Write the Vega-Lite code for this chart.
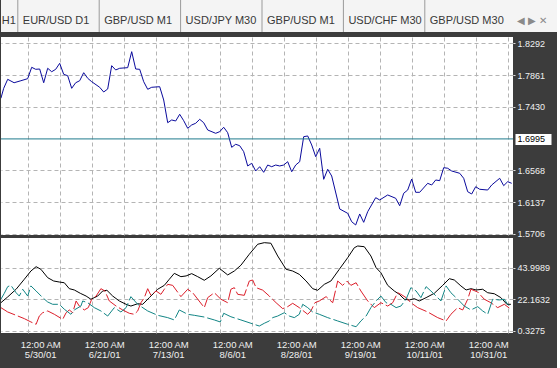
{
  "$schema": "https://vega.github.io/schema/vega-lite/v6.json",
  "background": "#3c3c3c",
  "padding": 0,
  "spacing": 5,
  "bounds": "flush",
  "config": {
    "view": {"stroke": null},
    "font": "Liberation Sans",
    "axis": {
      "labelFont": "Liberation Sans",
      "labelColor": "#f0f0f0",
      "gridColor": "#b4b4b4",
      "gridDash": [4, 3],
      "gridWidth": 1,
      "domain": false,
      "tickColor": "#e0e0e0",
      "tickSize": 2,
      "labelFontSize": 9
    }
  },
  "datasets": {
    "tabs": [
      {"order": 0, "label": "H1"},
      {"order": 1, "label": "EUR/USD D1"},
      {"order": 2, "label": "GBP/USD M1"},
      {"order": 3, "label": "USD/JPY M30"},
      {"order": 4, "label": "GBP/USD M1"},
      {"order": 5, "label": "USD/CHF M30"},
      {"order": 6, "label": "GBP/USD M30"},
      {"order": 7, "label": "◀ ▶  ✕"}
    ],
    "level": [{"price": 1.6995}],
    "price": [
      {"bar": -6.7, "close": 1.7546}, {"bar": -6, "close": 1.7681}, {"bar": -5, "close": 1.7803}, {"bar": -3.4, "close": 1.7757},
      {"bar": -1.7, "close": 1.7784}, {"bar": 0, "close": 1.7812}, {"bar": 1, "close": 1.7966}, {"bar": 2, "close": 1.7939},
      {"bar": 3, "close": 1.7943}, {"bar": 4, "close": 1.7757}, {"bar": 5, "close": 1.7953}, {"bar": 6, "close": 1.7906},
      {"bar": 7, "close": 1.7939}, {"bar": 8, "close": 1.802}, {"bar": 9, "close": 1.7871}, {"bar": 10, "close": 1.7852},
      {"bar": 11, "close": 1.7681}, {"bar": 12, "close": 1.7757}, {"bar": 13, "close": 1.7784}, {"bar": 14, "close": 1.7893},
      {"bar": 15, "close": 1.7817}, {"bar": 16, "close": 1.7771}, {"bar": 18, "close": 1.7695}, {"bar": 19, "close": 1.7631},
      {"bar": 20, "close": 1.7672}, {"bar": 21, "close": 1.7988}, {"bar": 22, "close": 1.793}, {"bar": 23, "close": 1.7953},
      {"bar": 25, "close": 1.7961}, {"bar": 26, "close": 1.8178}, {"bar": 27, "close": 1.7943}, {"bar": 28, "close": 1.7939},
      {"bar": 29, "close": 1.7771}, {"bar": 30, "close": 1.7668}, {"bar": 31, "close": 1.7695}, {"bar": 33, "close": 1.7703},
      {"bar": 34, "close": 1.7523}, {"bar": 35, "close": 1.7215}, {"bar": 36, "close": 1.7252}, {"bar": 37, "close": 1.7238},
      {"bar": 38, "close": 1.7329}, {"bar": 39, "close": 1.7242}, {"bar": 40, "close": 1.7139}, {"bar": 41, "close": 1.7184},
      {"bar": 42, "close": 1.7207}, {"bar": 43, "close": 1.7261}, {"bar": 44, "close": 1.7215}, {"bar": 45, "close": 1.7116},
      {"bar": 47, "close": 1.7071}, {"bar": 48, "close": 1.7093}, {"bar": 49, "close": 1.7153}, {"bar": 50, "close": 1.7079},
      {"bar": 51, "close": 1.6881}, {"bar": 52, "close": 1.6922}, {"bar": 53, "close": 1.6903}, {"bar": 54, "close": 1.6822},
      {"bar": 55, "close": 1.6628}, {"bar": 56, "close": 1.6664}, {"bar": 57, "close": 1.656}, {"bar": 58, "close": 1.6618},
      {"bar": 59, "close": 1.6542}, {"bar": 60, "close": 1.6641}, {"bar": 61, "close": 1.6618}, {"bar": 62, "close": 1.6641},
      {"bar": 63, "close": 1.6628}, {"bar": 64, "close": 1.6641}, {"bar": 65, "close": 1.6686}, {"bar": 66, "close": 1.655},
      {"bar": 67, "close": 1.6641}, {"bar": 68, "close": 1.6686}, {"bar": 69, "close": 1.7025}, {"bar": 70, "close": 1.7035},
      {"bar": 71, "close": 1.6913}, {"bar": 72, "close": 1.6754}, {"bar": 73, "close": 1.6868}, {"bar": 74, "close": 1.6447},
      {"bar": 75, "close": 1.6583}, {"bar": 76, "close": 1.6492}, {"bar": 78, "close": 1.6045}, {"bar": 80, "close": 1.5986},
      {"bar": 81, "close": 1.5872}, {"bar": 82, "close": 1.5828}, {"bar": 83, "close": 1.5977}, {"bar": 84, "close": 1.5864},
      {"bar": 85, "close": 1.6008}, {"bar": 87, "close": 1.6198}, {"bar": 88, "close": 1.6167}, {"bar": 90, "close": 1.6235},
      {"bar": 92, "close": 1.619}, {"bar": 93, "close": 1.6089}, {"bar": 94, "close": 1.6258}, {"bar": 95, "close": 1.6302},
      {"bar": 96, "close": 1.6451}, {"bar": 97, "close": 1.6271}, {"bar": 98, "close": 1.6271}, {"bar": 100, "close": 1.6393},
      {"bar": 101, "close": 1.637}, {"bar": 102, "close": 1.6438}, {"bar": 103, "close": 1.6429}, {"bar": 104, "close": 1.6605},
      {"bar": 105, "close": 1.6597}, {"bar": 106, "close": 1.656}, {"bar": 108, "close": 1.6529}, {"bar": 109, "close": 1.6461},
      {"bar": 110, "close": 1.6279}, {"bar": 111, "close": 1.6248}, {"bar": 112, "close": 1.6347}, {"bar": 113, "close": 1.6312},
      {"bar": 115, "close": 1.6302}, {"bar": 116, "close": 1.637}, {"bar": 118, "close": 1.6461}, {"bar": 119, "close": 1.6361},
      {"bar": 120, "close": 1.6415}, {"bar": 121, "close": 1.6393}
    ],
    "adx": [
      {"bar": -6.7, "value": 19.8}, {"bar": -5, "value": 23.8}, {"bar": -2.9, "value": 29.1}, {"bar": -0.85, "value": 36.0},
      {"bar": 0.8, "value": 41.7}, {"bar": 2.1, "value": 44.7}, {"bar": 3.3, "value": 42.9}, {"bar": 5, "value": 37.1},
      {"bar": 6.5, "value": 34.8}, {"bar": 7.9, "value": 34.1}, {"bar": 9.15, "value": 33.6}, {"bar": 10.4, "value": 29.5},
      {"bar": 11.65, "value": 28.6}, {"bar": 13.15, "value": 26.3}, {"bar": 14.6, "value": 24.4}, {"bar": 15.8, "value": 22.2},
      {"bar": 17.5, "value": 24.4}, {"bar": 18.75, "value": 27.9}, {"bar": 19.8, "value": 28.4}, {"bar": 21.25, "value": 24.4},
      {"bar": 22.9, "value": 21.0}, {"bar": 24.6, "value": 18.7}, {"bar": 25.8, "value": 17.5}, {"bar": 27.5, "value": 19.1},
      {"bar": 28.75, "value": 18.7}, {"bar": 30.4, "value": 23.3}, {"bar": 32.5, "value": 29.1}, {"bar": 34.15, "value": 31.8},
      {"bar": 35.4, "value": 36.0}, {"bar": 36.65, "value": 40.1}, {"bar": 38.3, "value": 37.8}, {"bar": 39.6, "value": 38.3},
      {"bar": 41, "value": 39.9}, {"bar": 42.5, "value": 37.8}, {"bar": 44.15, "value": 35.3}, {"bar": 45.8, "value": 38.3},
      {"bar": 47.9, "value": 43.6}, {"bar": 50, "value": 39.0}, {"bar": 51.65, "value": 41.7}, {"bar": 53.3, "value": 45.7},
      {"bar": 55.4, "value": 53.3}, {"bar": 57.5, "value": 60.2}, {"bar": 59.15, "value": 61.3}, {"bar": 60.8, "value": 60.9},
      {"bar": 62.5, "value": 52.1}, {"bar": 64.6, "value": 42.9}, {"bar": 66.25, "value": 41.7}, {"bar": 67.9, "value": 39.4},
      {"bar": 69.6, "value": 34.8}, {"bar": 71.25, "value": 29.5}, {"bar": 72.5, "value": 28.4}, {"bar": 74.15, "value": 32.5},
      {"bar": 75.8, "value": 34.8}, {"bar": 77.9, "value": 42.9}, {"bar": 80, "value": 50.9}, {"bar": 81.65, "value": 57.8},
      {"bar": 82.5, "value": 59.0}, {"bar": 84.15, "value": 58.5}, {"bar": 85.8, "value": 52.1}, {"bar": 87.1, "value": 44.0},
      {"bar": 88.3, "value": 40.5}, {"bar": 90, "value": 31.8}, {"bar": 91.65, "value": 27.9}, {"bar": 92.9, "value": 25.6},
      {"bar": 94.15, "value": 22.2}, {"bar": 95.4, "value": 21.7}, {"bar": 96.65, "value": 22.6}, {"bar": 97.9, "value": 21.0},
      {"bar": 99.6, "value": 23.3}, {"bar": 101.65, "value": 26.3}, {"bar": 103.75, "value": 31.8}, {"bar": 105.4, "value": 36.4},
      {"bar": 106.65, "value": 35.5}, {"bar": 108.3, "value": 31.4}, {"bar": 109.6, "value": 28.6}, {"bar": 110.8, "value": 29.5},
      {"bar": 112.1, "value": 28.6}, {"bar": 113.75, "value": 29.1}, {"bar": 115, "value": 26.7}, {"bar": 116.65, "value": 26.0},
      {"bar": 118.3, "value": 23.3}, {"bar": 119.8, "value": 18.7}, {"bar": 120.8, "value": 18.7}
    ],
    "pdi": [
      {"bar": -6.7, "value": 16.4}, {"bar": -5, "value": 13.4}, {"bar": -2.9, "value": 11.1}, {"bar": -0.85, "value": 8.8},
      {"bar": 0.8, "value": 6.5}, {"bar": 2.1, "value": 4.9}, {"bar": 2.9, "value": 10.6}, {"bar": 3.75, "value": 12.9},
      {"bar": 5, "value": 14.1}, {"bar": 6.65, "value": 11.8}, {"bar": 8.75, "value": 8.3}, {"bar": 9.6, "value": 12.9},
      {"bar": 10.4, "value": 14.8}, {"bar": 11.25, "value": 12.9}, {"bar": 12.1, "value": 21.0}, {"bar": 12.9, "value": 17.5},
      {"bar": 14.15, "value": 14.8}, {"bar": 15.15, "value": 16.4}, {"bar": 16, "value": 22.2}, {"bar": 17.1, "value": 24.4},
      {"bar": 18.3, "value": 29.5}, {"bar": 19.3, "value": 27.9}, {"bar": 20.4, "value": 21.0}, {"bar": 22.1, "value": 17.5},
      {"bar": 23.75, "value": 14.8}, {"bar": 25.4, "value": 12.5}, {"bar": 26.65, "value": 11.8}, {"bar": 27.5, "value": 14.1},
      {"bar": 28.3, "value": 19.8}, {"bar": 29.15, "value": 23.3}, {"bar": 30, "value": 29.5}, {"bar": 30.8, "value": 24.9},
      {"bar": 32.1, "value": 27.9}, {"bar": 33.3, "value": 25.6}, {"bar": 34.15, "value": 29.1}, {"bar": 35, "value": 32.5},
      {"bar": 36.25, "value": 31.8}, {"bar": 38.3, "value": 24.0}, {"bar": 40, "value": 29.1}, {"bar": 41.25, "value": 26.7},
      {"bar": 44.15, "value": 16.4}, {"bar": 45, "value": 23.3}, {"bar": 46.65, "value": 26.7}, {"bar": 48.3, "value": 22.2},
      {"bar": 50, "value": 19.8}, {"bar": 50.8, "value": 29.1}, {"bar": 51.65, "value": 30.2}, {"bar": 52.5, "value": 25.6},
      {"bar": 54.15, "value": 24.9}, {"bar": 55.4, "value": 34.8}, {"bar": 56.25, "value": 35.5}, {"bar": 57.1, "value": 30.2},
      {"bar": 58.75, "value": 28.5}, {"bar": 60.4, "value": 24.4}, {"bar": 62.1, "value": 19.8}, {"bar": 63.75, "value": 15.7},
      {"bar": 65, "value": 17.1}, {"bar": 66.25, "value": 19.4}, {"bar": 67.9, "value": 16.4}, {"bar": 70, "value": 11.8},
      {"bar": 70.8, "value": 14.1}, {"bar": 71.8, "value": 19.8}, {"bar": 72.9, "value": 21.0}, {"bar": 74.6, "value": 24.0},
      {"bar": 76.25, "value": 19.8}, {"bar": 77.5, "value": 34.8}, {"bar": 78.75, "value": 31.8}, {"bar": 79.8, "value": 34.8},
      {"bar": 80.8, "value": 31.8}, {"bar": 82.1, "value": 33.6}, {"bar": 83.3, "value": 27.9}, {"bar": 85, "value": 21.0},
      {"bar": 86.65, "value": 16.4}, {"bar": 88.3, "value": 19.8}, {"bar": 90, "value": 17.5}, {"bar": 91.25, "value": 19.8},
      {"bar": 92.5, "value": 26.7}, {"bar": 93.3, "value": 25.6}, {"bar": 94.6, "value": 23.3}, {"bar": 95.8, "value": 19.8},
      {"bar": 97.5, "value": 16.4}, {"bar": 100, "value": 13.4}, {"bar": 102.5, "value": 9.5}, {"bar": 104.6, "value": 7.2},
      {"bar": 105.8, "value": 11.8}, {"bar": 107.5, "value": 16.4}, {"bar": 108.75, "value": 14.8}, {"bar": 110, "value": 22.2},
      {"bar": 110.8, "value": 29.1}, {"bar": 112.5, "value": 27.2}, {"bar": 114.15, "value": 22.2}, {"bar": 115.8, "value": 19.8},
      {"bar": 117.5, "value": 16.4}, {"bar": 119.15, "value": 18.7}, {"bar": 120.8, "value": 15.3}
    ],
    "mdi": [
      {"bar": -6.7, "value": 22.2}, {"bar": -5.85, "value": 26.3}, {"bar": -5, "value": 30.9}, {"bar": -4.2, "value": 31.8},
      {"bar": -2.9, "value": 26.7}, {"bar": -2.1, "value": 24.4}, {"bar": -1.25, "value": 29.1}, {"bar": 0, "value": 24.4},
      {"bar": 0.8, "value": 31.4}, {"bar": 2.1, "value": 27.9}, {"bar": 3.75, "value": 23.3}, {"bar": 5, "value": 20.3},
      {"bar": 6.25, "value": 18.7}, {"bar": 7.9, "value": 18.7}, {"bar": 9.15, "value": 15.3}, {"bar": 10.8, "value": 11.8},
      {"bar": 11.65, "value": 14.8}, {"bar": 13.3, "value": 17.5}, {"bar": 13.75, "value": 21.0}, {"bar": 15, "value": 19.8},
      {"bar": 16.65, "value": 16.4}, {"bar": 18.3, "value": 14.1}, {"bar": 20, "value": 10.6}, {"bar": 21.65, "value": 16.4},
      {"bar": 23.3, "value": 13.4}, {"bar": 24.6, "value": 16.4}, {"bar": 25.8, "value": 24.0}, {"bar": 27.5, "value": 18.7},
      {"bar": 30, "value": 14.1}, {"bar": 32.5, "value": 11.1}, {"bar": 35, "value": 9.5}, {"bar": 36.65, "value": 7.9},
      {"bar": 37.9, "value": 14.8}, {"bar": 40, "value": 11.8}, {"bar": 41.65, "value": 11.1}, {"bar": 44.15, "value": 9.9},
      {"bar": 46.65, "value": 7.9}, {"bar": 48.15, "value": 6.5}, {"bar": 49, "value": 12.5}, {"bar": 50.8, "value": 10.1},
      {"bar": 53.3, "value": 7.9}, {"bar": 55.8, "value": 5.6}, {"bar": 57.9, "value": 3.7}, {"bar": 59.15, "value": 5.6},
      {"bar": 60.4, "value": 7.2}, {"bar": 61.25, "value": 9.5}, {"bar": 62.5, "value": 10.6}, {"bar": 64.15, "value": 12.9},
      {"bar": 65.4, "value": 10.6}, {"bar": 66.65, "value": 9.5}, {"bar": 67.9, "value": 11.8}, {"bar": 68.75, "value": 18.7},
      {"bar": 70, "value": 16.4}, {"bar": 71.25, "value": 13.4}, {"bar": 72.9, "value": 11.8}, {"bar": 75, "value": 9.5},
      {"bar": 77.5, "value": 7.2}, {"bar": 80, "value": 4.9}, {"bar": 82.1, "value": 3.2}, {"bar": 83.3, "value": 7.2},
      {"bar": 84.6, "value": 10.6}, {"bar": 85.8, "value": 16.4}, {"bar": 87.1, "value": 21.0}, {"bar": 88.3, "value": 24.4},
      {"bar": 89.6, "value": 19.8}, {"bar": 90.8, "value": 18.7}, {"bar": 92.1, "value": 16.4}, {"bar": 93.3, "value": 17.5},
      {"bar": 94.6, "value": 22.2}, {"bar": 95.8, "value": 30.2}, {"bar": 97.1, "value": 27.9}, {"bar": 98.3, "value": 23.3},
      {"bar": 99.6, "value": 30.9}, {"bar": 100.8, "value": 27.9}, {"bar": 102.1, "value": 24.4}, {"bar": 103.3, "value": 21.0},
      {"bar": 104.6, "value": 31.4}, {"bar": 105.8, "value": 26.7}, {"bar": 107.5, "value": 22.2}, {"bar": 109.15, "value": 17.5},
      {"bar": 110.8, "value": 14.8}, {"bar": 112.5, "value": 17.1}, {"bar": 113.75, "value": 14.1}, {"bar": 115, "value": 11.8},
      {"bar": 116.25, "value": 22.2}, {"bar": 117.9, "value": 21.7}, {"bar": 119.15, "value": 22.2}, {"bar": 120, "value": 18.7},
      {"bar": 120.8, "value": 16.4}
    ]
  },
  "vconcat": [
    {
      "width": 556,
      "height": 32,
      "view": {"fill": "#f4f4f4", "stroke": null},
      "data": {"name": "tabs"},
      "encoding": {
        "x": {
          "field": "order",
          "type": "ordinal",
          "scale": {"type": "band", "domain": [0, 1, 2, 3, 4, 5, 6, 7], "range": [-64.6, 586.6], "paddingInner": 0, "paddingOuter": 0},
          "axis": null
        }
      },
      "layer": [
        {
          "transform": [{"filter": "datum.order >= 1 && datum.order <= 6"}],
          "mark": {"type": "rule", "color": "#9a9a9a", "clip": true},
          "encoding": {"x": {"field": "order", "type": "ordinal", "bandPosition": 0}}
        },
        {
          "transform": [{"filter": "datum.order >= 1 && datum.order <= 6"}],
          "mark": {"type": "text", "align": "left", "dx": 5, "dy": 5, "fontSize": 11, "color": "#383838", "clip": true},
          "encoding": {"x": {"field": "order", "type": "ordinal", "bandPosition": 0}, "text": {"field": "label"}}
        },
        {
          "transform": [{"filter": "datum.order == 0"}],
          "mark": {"type": "text", "align": "right", "dx": -2, "dy": 5, "fontSize": 11, "color": "#383838", "clip": true},
          "encoding": {"x": {"field": "order", "type": "ordinal", "bandPosition": 1}, "text": {"field": "label"}}
        },
        {
          "transform": [{"filter": "datum.order == 7"}],
          "mark": {"type": "text", "align": "left", "dx": 11, "dy": 5, "fontSize": 10, "color": "#8a8a8a", "clip": true},
          "encoding": {"x": {"field": "order", "type": "ordinal", "bandPosition": 0}, "text": {"field": "label"}}
        }
      ]
    },
    {
      "spacing": 3,
      "bounds": "flush",
      "vconcat": [
        {
          "width": 512,
          "height": 198,
          "view": {"fill": "white", "stroke": null},
          "resolve": {"scale": {"y": "independent"}},
          "layer": [
            {
              "data": {"name": "price"},
              "mark": {"type": "line", "color": "#0a0a9c", "strokeWidth": 1, "clip": true},
              "encoding": {
                "x": {
                  "field": "bar",
                  "type": "quantitative",
                  "scale": {"domain": [-6.675, 121.325], "nice": false, "zero": false},
                  "axis": {"values": [0, 8, 16, 24, 32, 40, 48, 56, 64, 72, 80, 88, 96, 104, 112, 120], "grid": true, "labels": false, "ticks": false, "title": null}
                },
                "y": {
                  "field": "close",
                  "type": "quantitative",
                  "scale": {"domain": [1.5692, 1.8377], "nice": false, "zero": false},
                  "axis": {"orient": "right", "values": [1.8292, 1.7861, 1.743, 1.6568, 1.6137, 1.5706], "format": ".4f", "grid": true, "labelPadding": 2, "title": null, "minExtent": 44}
                }
              }
            },
            {
              "data": {"name": "level"},
              "mark": {"type": "rule", "color": "#1f7a8c", "strokeWidth": 1},
              "encoding": {
                "y": {
                  "field": "price",
                  "type": "quantitative",
                  "scale": {"domain": [1.5692, 1.8377], "nice": false, "zero": false},
                  "axis": {"orient": "right", "values": [1.6995], "format": ".4f", "grid": false, "offset": 2, "tickSize": 36, "tickWidth": 11, "tickColor": "white", "labelColor": "black", "labelPadding": -34, "labelAlign": "left", "title": null}
                }
              }
            }
          ]
        },
        {
          "width": 512,
          "height": 95,
          "view": {"fill": "white", "stroke": null},
          "encoding": {
            "x": {
              "field": "bar",
              "type": "quantitative",
              "scale": {"domain": [-6.675, 121.325], "nice": false, "zero": false},
              "axis": {
                "values": [0, 8, 16, 24, 32, 40, 48, 56, 64, 72, 80, 88, 96, 104, 112, 120],
                "grid": true,
                "ticks": false,
                "labelExpr": "datum.value % 16 === 0 ? ['12:00 AM', ['5/30/01','6/21/01','7/13/01','8/6/01','8/28/01','9/19/01','10/11/01','10/31/01'][datum.value / 16]] : ''",
                "labelFontSize": 9.5,
                "labelLineHeight": 10.5,
                "labelPadding": 6,
                "labelOffset": 12.5,
                "labelFlush": false,
                "labelOverlap": false,
                "labelBound": false,
                "minExtent": 35,
                "title": null
              }
            },
            "y": {
              "field": "value",
              "type": "quantitative",
              "scale": {"domain": [-1.124, 64.52], "nice": false, "zero": false},
              "axis": {"orient": "right", "values": [0.3275, 22.1632, 43.9989], "format": ".4f", "grid": true, "labelPadding": 2, "title": null, "minExtent": 44}
            }
          },
          "layer": [
            {"data": {"name": "adx"}, "mark": {"type": "line", "color": "#000000", "strokeWidth": 1, "clip": true}},
            {"data": {"name": "pdi"}, "mark": {"type": "line", "color": "#dc1e2a", "strokeWidth": 1, "strokeDash": [16, 3], "clip": true}},
            {"data": {"name": "mdi"}, "mark": {"type": "line", "color": "#128585", "strokeWidth": 1, "strokeDash": [16, 3], "clip": true}}
          ]
        }
      ]
    }
  ]
}
